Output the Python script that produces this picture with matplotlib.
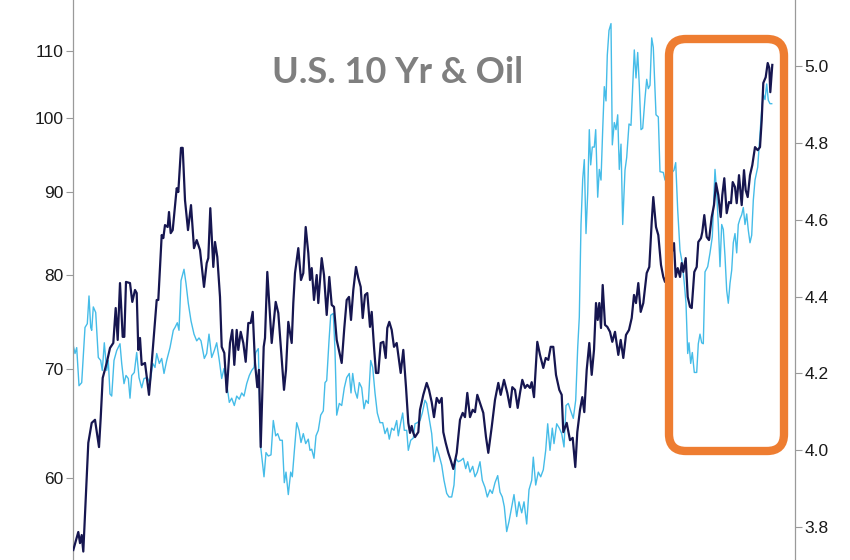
import matplotlib
matplotlib.use("Agg")
import matplotlib.pyplot as plt
from matplotlib.patches import FancyBboxPatch
from matplotlib.transforms import IdentityTransform
from matplotlib.ticker import FixedLocator, FixedFormatter, NullLocator

# ---- data (time positions are arbitrary, evenly spaced in time) ----
us10y_t = [73.3, 78.3, 80, 81.7, 83.3, 88.3, 91.7, 95, 99, 100.7, 102.7, 106.7, 110, 113.3, 115.7, 117.7,
           120, 122.7, 124.3, 126, 130, 132.3, 135, 136.7, 138.3, 140, 141.7, 145, 149, 151.7, 156.7, 158.3,
           161.7, 163.3, 165, 167.7, 169, 170.7, 172.7, 176.7, 178.3, 181, 182.7, 185, 188, 191, 194, 196.7,
           200, 204, 206.7, 208.3, 210.3, 213.3, 215, 217.3, 220, 221.7, 224.3, 226.7, 230, 232.3, 234.3,
           236.7, 238.3, 240.7, 243.3, 245.7, 248.3, 250.7, 252.7, 255, 257.3, 259, 260.7, 263.7, 265, 267.3,
           271.7, 275.7, 278.3, 284, 286, 288.3, 291.7, 293.3, 295, 298.3, 301, 303.3, 305.7, 308.3, 310,
           311.7, 314, 316.7, 318.3, 321.7, 324, 326.7, 329.3, 331.7, 334, 336.7, 339.3, 341.7, 344.3, 346.7,
           349, 351, 353.3, 356, 358.3, 360.7, 362.7, 365, 367.3, 370, 371.7, 374, 376, 378.3, 380.7, 383.3,
           385.7, 387.3, 389.3, 391.7, 394, 396.7, 398.3, 400.7, 403.3, 406, 408.3, 410, 411.7, 413.3, 415,
           418.3, 420, 423.3, 426.7, 429, 431.7, 434, 436.7, 439.3, 441.7, 443.3, 445.7, 448.3, 450.7, 453.3,
           456.7, 460, 462.7, 465, 467.3, 470, 472.7, 475, 477.3, 480, 483.3, 486, 488.3, 491.7, 495, 498.3,
           500.7, 504, 507.3, 510, 512.3, 515, 517.7, 520, 522.3, 525, 527.3, 530, 531.7, 534, 537.3, 540,
           543.3, 545.7, 548.3, 550.7, 553.3, 556, 559.3, 561.7, 563.3, 566.7, 570, 572.7, 575.3, 577.3, 580,
           582.3, 584.3, 586.7, 589.3, 591.7, 594, 596, 597.7, 599.3, 601, 602.7, 605, 607.3, 610, 612.3, 615,
           618.3, 620.7, 623.3, 626, 629, 631.7, 634, 636, 638.3, 640.7, 643.3, 646.7, 649.3, 651.7, 653.3,
           656, 658.3, 661, 663.3, 665, 669.5, 674, 675.7, 677.7, 680, 681.7, 683.3, 685.7, 687.7, 690, 691.7,
           694.3, 696.7, 698.3, 701, 702.3, 704.3, 706.7, 709, 711.7, 714, 716, 718.3, 720.7, 722.3, 724.3,
           726.7, 729, 731, 732.7, 735, 736.7, 739, 741.7, 744, 745.7, 747.7, 750, 752.3, 755, 757.7, 760,
           761.7, 763.3, 765.7, 767.7, 769.3, 770.3, 772.3]
us10y = [3.74, 3.787, 3.758, 3.779, 3.736, 4.019, 4.071, 4.079, 4.008, 4.084, 4.188, 4.227, 4.266, 4.279, 4.370, 4.287,
         4.435, 4.295, 4.295, 4.438, 4.435, 4.386, 4.417, 4.409, 4.261, 4.292, 4.222, 4.227, 4.144, 4.227, 4.391, 4.391,
         4.560, 4.552, 4.586, 4.581, 4.620, 4.565, 4.573, 4.682, 4.672, 4.787, 4.787, 4.651, 4.573, 4.638, 4.526, 4.547,
         4.521, 4.425, 4.487, 4.500, 4.630, 4.477, 4.542, 4.503, 4.399, 4.269, 4.253, 4.151, 4.279, 4.313, 4.222,
         4.313, 4.261, 4.308, 4.279, 4.230, 4.331, 4.331, 4.360, 4.227, 4.164, 4.209, 4.008, 4.269, 4.292, 4.464,
         4.279, 4.386, 4.357, 4.157, 4.209, 4.334, 4.279, 4.383, 4.461, 4.526, 4.443, 4.461, 4.581, 4.513, 4.443,
         4.474, 4.391, 4.456, 4.383, 4.500, 4.456, 4.352, 4.451, 4.378, 4.373, 4.287, 4.256, 4.227, 4.318, 4.391,
         4.399, 4.339, 4.417, 4.477, 4.448, 4.425, 4.344, 4.404, 4.409, 4.321, 4.360, 4.269, 4.201, 4.201, 4.279, 4.282,
         4.240, 4.318, 4.334, 4.313, 4.269, 4.279, 4.248, 4.201, 4.261, 4.164, 4.071, 4.045, 4.063, 4.045, 4.034,
         4.047, 4.105, 4.144, 4.175, 4.157, 4.125, 4.086, 4.136, 4.123, 4.136, 4.047, 4.019, 3.993, 3.974, 3.951,
         3.993, 4.079, 4.097, 4.086, 4.149, 4.086, 4.105, 4.099, 4.144, 4.123, 4.097, 4.034, 3.993, 4.060, 4.131, 4.175,
         4.144, 4.183, 4.149, 4.112, 4.164, 4.157, 4.110, 4.149, 4.183, 4.162, 4.170, 4.162, 4.177, 4.138, 4.282, 4.248,
         4.214, 4.240, 4.235, 4.269, 4.269, 4.196, 4.157, 4.144, 4.047, 4.071, 4.026, 4.032, 3.956, 4.047, 4.105,
         4.138, 4.099, 4.209, 4.279, 4.196, 4.261, 4.383, 4.339, 4.383, 4.318, 4.430, 4.326, 4.321, 4.308, 4.282, 4.308,
         4.248, 4.287, 4.240, 4.300, 4.313, 4.344, 4.404, 4.383, 4.435, 4.360, 4.383, 4.461, 4.477, 4.594, 4.659,
         4.581, 4.560, 4.482, 4.451, 4.438, 4.49, 4.539, 4.451, 4.474, 4.451, 4.487, 4.464, 4.500, 4.399, 4.373, 4.370,
         4.464, 4.477, 4.542, 4.552, 4.568, 4.612, 4.555, 4.547, 4.607, 4.638, 4.695, 4.664, 4.607, 4.664, 4.708,
         4.617, 4.646, 4.643, 4.698, 4.685, 4.643, 4.716, 4.638, 4.729, 4.677, 4.659, 4.716, 4.742, 4.789, 4.781, 4.789,
         4.859, 4.956, 4.971, 5.008, 4.995, 4.932, 5.003]

oil_t = [73.3, 75, 76.7, 79, 81.7, 85, 87.3, 89, 90.7, 91.7, 93.3, 95.7, 98.3, 100.7, 102.3, 104.3, 106.7, 108.3,
         110, 111.7, 114, 116.7, 120, 121.7, 124, 126, 128.3, 130, 131.7, 134.3, 136.7, 139, 141.7, 144, 147.3,
         150, 152.7, 155, 156.7, 159.3, 161.7, 164, 166.7, 170, 173.3, 175, 177.3, 179, 181, 184, 186, 188.3,
         191, 194, 196.7, 199, 201, 204.3, 206.7, 209, 211.7, 214.3, 216.7, 219.3, 221.7, 224, 226.7, 229.3,
         231.7, 234.3, 236.7, 239.3, 241.7, 244, 246.7, 249.3, 251.7, 254, 255.7, 258.3, 260.7, 264, 266,
         268.3, 271, 273.3, 275.7, 277.7, 280, 282.3, 284.3, 286, 288.3, 290.7, 292.3, 294.3, 296.7, 299, 301,
         303.3, 305.7, 308.3, 310, 311.7, 314, 316, 318.3, 320.7, 323.3, 325, 326.7, 329, 330.7, 333.3, 335,
         336.7, 339.3, 341.7, 344.3, 346.7, 349.3, 351, 352.7, 355, 357.3, 359.3, 361.7, 364, 366, 368.3,
         370.7, 372.7, 375, 377.3, 380, 382.7, 385, 387.3, 389.3, 391.7, 394, 396.7, 398.3, 400.7, 402.7,
         404.3, 406.7, 408.3, 410.7, 413.3, 415, 417.3, 420, 422.3, 425, 426.7, 429, 431.7, 434, 436.7, 439,
         441.7, 444, 446.7, 449, 451.7, 454, 455.7, 458.3, 460.7, 463.3, 465.7, 467.7, 470, 472.7, 475, 477.3,
         480, 482.3, 485, 487.3, 490, 492.3, 495, 497.7, 500, 502.3, 504.3, 506.7, 509, 511.7, 514, 516.7, 519,
         521.7, 524, 526.7, 529, 531.7, 533.3, 535.7, 538.3, 540.7, 543.3, 545.7, 547.7, 550, 552.3, 554,
         556.7, 559.3, 561.7, 564, 566, 568.3, 570.7, 573.3, 575.7, 577.7, 579.3, 581, 582.7, 584.3, 586,
         587.7, 589.3, 590.7, 592.3, 594.3, 595.7, 597.7, 599.3, 601, 602.7, 604.3, 606, 607.3, 609, 611,
         612.3, 614.3, 616, 617.7, 619.3, 621, 622.7, 625, 626.7, 629, 631, 632.7, 634.3, 636, 637.7, 639.3,
         641, 642.7, 645, 646.7, 648.3, 650, 651.7, 653.3, 656, 658.3, 660, 663.3, 665, 669.5, 674, 675.7,
         677.7, 680, 682.3, 684.3, 686, 687.7, 689, 690.7, 692.3, 694.3, 696.7, 698.3, 700, 701.7, 703.3, 705,
         707.7, 710, 712.3, 715, 716.7, 718.3, 720, 721.7, 723.3, 725, 726.7, 728.3, 730, 731.7, 733.3, 735,
         736.7, 738.3, 740, 741.7, 743.3, 745, 746.7, 748.3, 750, 751.7, 753.3, 755, 757.7, 760, 761.7, 763.3,
         765, 766.7, 768.3, 770, 771.7]
oil = [72.4, 71.6, 72.2, 68.4, 68.7, 74.3, 74.7, 77.7, 74.3, 74.0, 76.5, 75.9, 71.2, 70.9, 69.9, 72.7, 69.9, 70.9,
       67.6, 67.4, 70.9, 71.9, 72.6, 70.6, 68.6, 69.4, 69.1, 67.2, 69.4, 69.7, 71.7, 69.2, 68.2, 69.1, 69.2,
       68.6, 70.6, 70.2, 71.6, 70.6, 71.1, 69.6, 70.9, 72.2, 74.0, 74.3, 74.8, 74.0, 79.4, 80.7, 79.1, 76.9,
       75.0, 73.6, 72.9, 73.2, 72.9, 71.1, 71.6, 73.6, 71.2, 71.9, 72.7, 70.9, 69.1, 70.1, 68.6, 66.8,
       67.2, 66.5, 67.4, 67.1, 67.7, 67.4, 68.6, 69.4, 69.9, 70.2, 71.7, 72.1, 62.7, 60.1, 62.2,
       61.9, 62.0, 65.1, 63.7, 63.9, 63.3, 63.3, 59.6, 60.5, 58.6, 60.5, 60.1, 62.3, 64.9, 64.2, 63.1,
       63.9, 63.0, 63.4, 62.4, 62.5, 61.7, 63.7, 64.2, 65.6, 66.0, 68.7, 68.9, 72.9, 75.6, 75.8, 71.9,
       65.6, 66.7, 66.5, 68.2, 69.2, 69.6, 67.7, 69.6, 67.9, 67.2, 68.7, 68.2, 66.2, 67.0, 66.7,
       70.9, 70.2, 67.7, 65.8, 64.9, 64.9, 63.9, 64.4, 63.4, 64.4, 64.2, 65.1, 63.7, 64.9, 65.8,
       64.2, 64.2, 62.4, 63.3, 63.5, 64.8, 64.9, 65.1, 65.8, 67.0, 66.7, 65.4, 63.9, 61.4, 62.7, 62.0,
       61.1, 59.8, 58.7, 58.4, 58.4, 59.4, 61.7, 61.4, 61.5, 61.7, 60.8, 61.4, 60.5, 61.0, 60.1, 60.5,
       61.4, 59.8, 59.2, 58.4, 59.0, 58.7, 59.6, 60.2, 58.8, 58.4, 57.6, 55.6, 56.4, 57.6, 58.6, 56.8, 58.0,
       57.1, 58.0, 56.2, 59.0, 59.8, 61.8, 59.4, 60.5, 60.1, 60.7, 62.4, 64.8, 62.4, 64.4, 63.0,
       64.8, 64.4, 63.9, 62.7, 66.5, 66.7, 66.0, 65.3, 67.0, 72.2, 75.4, 86.0, 91.7, 94.3, 84.9,
       89.9, 98.4, 93.6, 96.0, 96.0, 98.4, 89.4, 93.0, 91.6, 98.4, 104.6, 102.5, 109.4, 113.3, 114.4,
       96.3, 99.4, 98.4, 100.5, 93.0, 96.4, 86.0, 92.9, 94.6, 99.2, 99.0, 104.8, 110.2, 105.9, 109.8, 104.8,
       98.4, 98.6, 102.9, 105.7, 104.3, 104.8, 112.1, 110.6, 100.5, 100.2, 92.7, 92.6, 91.6, 92.2, 92.9, 93.9,
       87.8, 82.9, 81.4, 79.1, 76.9, 71.6, 72.7, 70.6, 71.7, 69.7, 69.7, 72.6, 73.6, 72.7, 72.6, 80.4,
       81.0, 82.6, 84.5, 93.0, 89.9, 86.0, 81.0, 86.0, 85.4, 82.2, 78.3, 76.9, 79.1, 80.6, 83.8, 84.9,
       82.6, 86.0, 86.7, 87.2, 88.1, 86.0, 87.3, 85.3, 83.8, 84.7, 89.0, 91.6, 93.3, 97.9, 101.3, 103.5,
       102.7, 105.0, 102.6, 102.1, 102.1]

oil_ticks = [60, 70, 80, 90, 100, 110]
oil_tick_labels = ["60", "70", "80", "90", "100", "110"]
yield_ticks = [3.8, 4.0, 4.2, 4.4, 4.6, 4.8, 5.0]
yield_tick_labels = ["3.8", "4.0", "4.2", "4.4", "4.6", "4.8", "5.0"]
title_text = "U.S. 10 Yr & Oil"

# ---- styling ----
DARK = "#161650"
LIGHT = "#45BCE8"
AXIS_GREY = "#9a9a9a"
plt.rcParams["font.family"] = ["Liberation Sans", "DejaVu Sans"]

fig = plt.figure(figsize=(8.5, 5.6), dpi=100)
ax = fig.add_axes([73 / 850, 0.0, (795 - 73) / 850, 1.0])
ax2 = ax.twinx()

ax.plot(oil_t, oil, color=LIGHT, lw=1.0, zorder=2)
ax2.plot(us10y_t, us10y, color=DARK, lw=1.6, zorder=3)

ax.set_yscale("log")
ax.set_ylim(53.4, 118.3)
ax2.set_ylim(3.714, 5.172)
ax.set_xlim(73, 795)

ax.yaxis.set_major_locator(FixedLocator(oil_ticks))
ax.yaxis.set_major_formatter(FixedFormatter(oil_tick_labels))
ax.yaxis.set_minor_locator(NullLocator())
ax2.yaxis.set_major_locator(FixedLocator(yield_ticks))
ax2.yaxis.set_major_formatter(FixedFormatter(yield_tick_labels))

for a in (ax, ax2):
    a.set_facecolor("none")
    a.spines["top"].set_visible(False)
    a.spines["bottom"].set_visible(False)
    a.set_xticks([])
    a.tick_params(axis="y", length=5, width=0.8, color=AXIS_GREY, labelsize=12.5,
                  labelcolor="#1a1a1a", pad=2)
ax.spines["right"].set_visible(False)
ax2.spines["left"].set_visible(False)
ax.spines["left"].set_color(AXIS_GREY)
ax2.spines["right"].set_color(AXIS_GREY)
ax.spines["left"].set_linewidth(0.9)
ax2.spines["right"].set_linewidth(0.9)

# title
fig.text(398 / 850, 1 - 83 / 560, title_text, ha="center", va="baseline",
         fontsize=26, fontweight="bold", color="#7f7f7f", family=["Lato", "DejaVu Sans"])

# orange highlight box (pixel coordinates)
box = FancyBboxPatch((669, 560 - 451), 115, 412,
                     boxstyle="round,pad=0,rounding_size=17",
                     transform=IdentityTransform(), fill=False,
                     edgecolor="#EE7D31", linewidth=6.0, zorder=10)
fig.add_artist(box)

fig.savefig("out.png", dpi=100)
